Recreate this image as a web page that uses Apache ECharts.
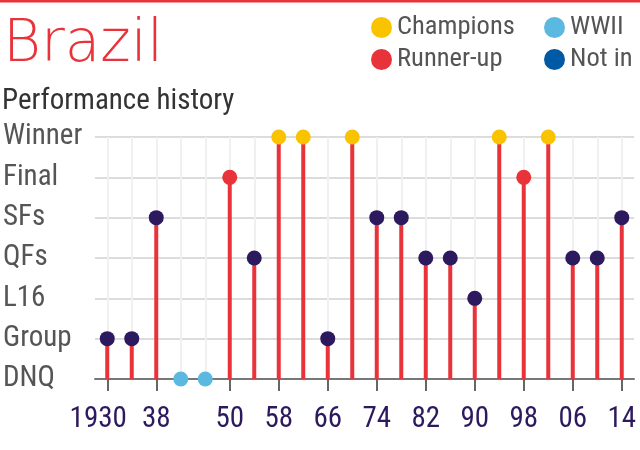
<!DOCTYPE html>
<html>
<head>
<meta charset="utf-8">
<script src="https://cdn.jsdelivr.net/npm/echarts@6/dist/echarts.min.js"></script>
<style>
html,body{margin:0;padding:0;background:#fff;}
#c{width:640px;height:450px;}
</style>
</head>
<body>
<div id="c"></div>
<script>
// ---- data ----
const years = ['1930','1934','1938','1942','1946','1950','1954','1958','1962','1966','1970','1974','1978','1982','1986','1990','1994','1998','2002','2006','2010','2014'];
const stageNames = ['DNQ','Group','L16','QFs','SFs','Final','Winner'];
const results = ['Group','Group','SFs','DNQ','DNQ','Final','QFs','Winner','Winner','Group','Winner','SFs','SFs','QFs','QFs','L16','Winner','Final','Winner','QFs','QFs','SFs'];
const wwiiYears = ['1942','1946'];
const labelYears = ['1930','1938','1950','1958','1966','1974','1982','1990','1998','2006','2014'];
const labelTexts = ['1930','38','50','58','66','74','82','90','98','06','14'];

const RED = '#e8333a', YEL = '#f9c300', LBLUE = '#5bb8e0', DBLUE = '#0059a5', PURP = '#2d1a5e';
const FONT = '"Liberation Sans Narrow", "Roboto Condensed", Roboto, sans-serif';

const stageIdx = results.map(r => stageNames.indexOf(r));
const champ = [], runner = [], ww = [], other = [];
years.forEach((y, i) => {
  const r = results[i], v = stageIdx[i];
  if (wwiiYears.includes(y)) ww.push([y, v]);
  else if (r === 'Winner') champ.push([y, v]);
  else if (r === 'Final') runner.push([y, v]);
  else other.push([y, v]);
});
const stems = years.map((y, i) => wwiiYears.includes(y) ? null : stageIdx[i]);

const chart = echarts.init(document.getElementById('c'), null, {renderer: 'canvas'});
const legendBase = {
  icon: 'circle', itemWidth: 21, itemHeight: 21, orient: 'horizontal',
  selectedMode: false, padding: 0,
  textStyle: {color: '#555', fontSize: 26.5, fontFamily: FONT}
};
chart.setOption({
  animation: false,
  graphic: [{type: 'rect', left: 0, top: 0, shape: {width: 640, height: 2.5}, style: {fill: RED}}],
  title: [
    {text: 'Brazil', left: 3, top: 17, padding: 0,
     textStyle: {color: RED, fontSize: 58, fontWeight: 200, fontFamily: '"DejaVu Sans", sans-serif'}},
    {text: 'Performance history', left: 2, top: 87, padding: 0,
     textStyle: {color: '#333', fontSize: 29, fontWeight: 'normal', fontFamily: FONT}}
  ],
  legend: [
    Object.assign({}, legendBase, {data: ['Champions'], left: 371, top: 14}),
    Object.assign({}, legendBase, {data: ['WWII'], left: 544, top: 14}),
    Object.assign({}, legendBase, {data: ['Runner-up'], left: 371, top: 46}),
    Object.assign({}, legendBase, {data: ['Not in'], left: 544, top: 46})
  ],
  grid: {left: 95, right: 6, top: 137, bottom: 71, containLabel: false},
  xAxis: {
    type: 'category', data: years, boundaryGap: true,
    axisLine: {show: true, lineStyle: {color: '#777', width: 2}},
    axisTick: {show: true, alignWithLabel: true, length: 12, lineStyle: {color: '#666', width: 2},
      interval: (i, v) => labelYears.includes(v)},
    axisLabel: {show: true, color: PURP, fontSize: 29, fontFamily: FONT, margin: 26,
      hideOverlap: false, showMinLabel: true, showMaxLabel: true,
      interval: (i, v) => labelYears.includes(v),
      formatter: v => {
        const t = labelTexts[labelYears.indexOf(v)];
        return t.length === 4 ? t + '{h| }' : t;
      },
      rich: {h: {width: 18, fontSize: 29, fontFamily: FONT, color: 'rgba(0,0,0,0)'}}},
    splitLine: {show: true, alignWithLabel: true, interval: 0, lineStyle: {color: '#f0f0f0', width: 2}}
  },
  yAxis: {
    type: 'value', min: 0, max: 6, interval: 1,
    axisLine: {show: false}, axisTick: {show: false},
    axisLabel: {align: 'left', margin: 92, color: '#555', fontSize: 29, fontFamily: FONT,
      formatter: v => stageNames[v]},
    splitLine: {show: true, lineStyle: {color: '#dcdcdc', width: 2}}
  },
  series: [
    {type: 'bar', name: 'stem', data: stems, barWidth: 4, itemStyle: {color: RED}, silent: true, z: 2},
    {type: 'scatter', name: 'Champions', data: champ, symbolSize: 15, itemStyle: {color: YEL, opacity: 1}, clip: false, z: 3},
    {type: 'scatter', name: 'Runner-up', data: runner, symbolSize: 15, itemStyle: {color: RED, opacity: 1}, clip: false, z: 3},
    {type: 'scatter', name: 'WWII', data: ww, symbolSize: 15, itemStyle: {color: LBLUE, opacity: 1}, clip: false, z: 3},
    {type: 'scatter', name: 'Not in', data: [], symbolSize: 15, itemStyle: {color: DBLUE, opacity: 1}, clip: false, z: 3},
    {type: 'scatter', name: 'Other', data: other, symbolSize: 15, itemStyle: {color: PURP, opacity: 1}, clip: false, z: 3}
  ]
});
</script>
</body>
</html>
